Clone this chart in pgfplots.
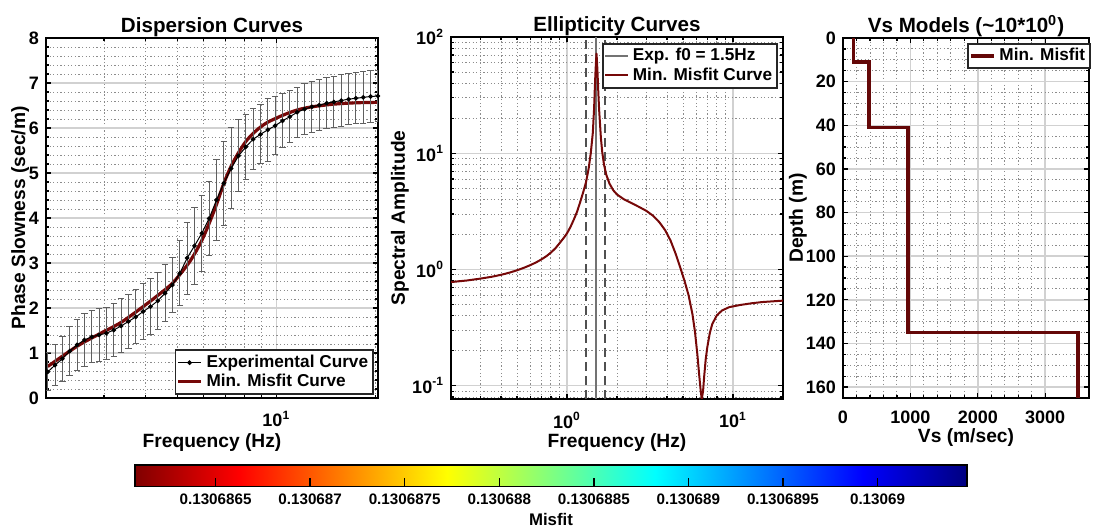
\documentclass[border=0pt]{standalone}
\usepackage{fontspec}
\setmainfont{Liberation Sans}
\usepackage{pgfplots}
\usepackage{pgfplotstable}
\pgfplotsset{compat=1.18}

\definecolor{mred}{RGB}{118,8,8}
\definecolor{ebar}{RGB}{95,95,95}
\definecolor{fzero}{RGB}{115,115,115}
\definecolor{fdash}{RGB}{80,80,80}

\pgfplotsset{
  colormap={revjet}{rgb255(0pt)=(128,0,0); rgb255(1pt)=(255,0,0); rgb255(3pt)=(255,255,0); rgb255(5pt)=(0,255,255); rgb255(7pt)=(0,0,255); rgb255(8pt)=(0,0,128)},
  matlab/.style={
    scale only axis,
    axis line style={line width=0.9pt},
    tick style={black, line width=0.6pt},
    major tick length=2.5pt, minor tick length=1.4pt,
    tick align=inside,
    grid=both,
    major grid style={line width=0.7pt, black!18},
    minor grid style={line width=0.45pt, black!45, dash pattern=on 0.6pt off 1.2pt},
    tick label style={font=\bfseries\fontsize{9}{10}\selectfont},
    xticklabel style={yshift=-3pt},
    label style={font=\bfseries\fontsize{9.6}{11}\selectfont},
    title style={font=\bfseries\fontsize{10.3}{12}\selectfont, at={(axis description cs:0.5,1)}, anchor=base, yshift=-3.2pt},
    legend style={font=\bfseries\fontsize{8.6}{10}\selectfont, draw=black!85, line width=0.9pt, fill=white, inner xsep=0.5pt, inner ysep=0.3pt, row sep=-2.2pt, cells={anchor=west, inner xsep=0.5pt}},
    legend image code/.code={\draw[mark repeat=2,mark phase=2,##1] plot coordinates {(0cm,0cm) (0.2cm,0cm) (0.4cm,0cm)};},
    /pgf/number format/assume math mode=true,
    /pgf/number format/1000 sep={},
    scaled ticks=false,
  }
}

\pgfplotstableread{
f s e
2.024 0.58 0.42
2.130 0.73 0.45
2.242 0.87 0.50
2.360 1.04 0.55
2.485 1.18 0.57
2.615 1.29 0.58
2.753 1.36 0.58
2.898 1.40 0.58
3.050 1.44 0.58
3.211 1.51 0.58
3.380 1.60 0.60
3.558 1.70 0.60
3.745 1.80 0.60
3.942 1.92 0.62
4.149 2.03 0.63
4.368 2.16 0.63
4.597 2.33 0.64
4.839 2.51 0.62
5.094 2.77 0.72
5.362 3.11 0.80
5.644 3.38 0.85
5.941 3.66 0.85
6.254 3.99 0.82
6.583 4.40 0.89
6.929 4.77 0.93
7.293 5.10 0.90
7.677 5.38 0.80
8.081 5.58 0.72
8.506 5.75 0.68
8.954 5.86 0.66
9.425 5.96 0.70
9.921 6.05 0.65
10.44 6.16 0.60
10.99 6.25 0.58
11.57 6.35 0.56
12.18 6.42 0.57
12.82 6.47 0.57
13.50 6.51 0.57
14.21 6.55 0.57
14.95 6.58 0.57
15.74 6.61 0.57
16.57 6.64 0.57
17.44 6.66 0.57
18.36 6.68 0.57
19.32 6.70 0.57
20.34 6.71 0.56
}\expdata

\pgfplotstableread{
f s
2.024 0.70
2.485 1.15
2.898 1.42
3.380 1.68
3.942 2.03
4.368 2.28
4.839 2.55
5.362 2.95
5.644 3.20
5.941 3.50
6.254 3.88
6.583 4.30
6.929 4.77
7.293 5.15
7.677 5.45
8.081 5.70
8.506 5.88
8.954 6.02
9.425 6.13
10.44 6.28
11.57 6.40
12.82 6.47
14.95 6.53
17.44 6.56
20.34 6.57
}\misfitdisp

\pgfplotstableread{
f a
0.20 0.78
0.25 0.805
0.30 0.835
0.35 0.865
0.40 0.90
0.45 0.94
0.50 0.985
0.55 1.035
0.60 1.09
0.65 1.15
0.70 1.22
0.75 1.30
0.80 1.40
0.85 1.52
0.90 1.68
0.95 1.85
1.00 2.05
1.05 2.33
1.10 2.70
1.15 3.15
1.20 3.80
1.25 4.60
1.30 5.60
1.35 7.40
1.39 10.0
1.43 15
1.455 24
1.470 36
1.482 48
1.493 60
1.505 72
1.517 60
1.528 48
1.540 36
1.560 24
1.60 13.5
1.63 10.2
1.67 8.0
1.72 6.6
1.80 5.5
1.90 4.8
2.00 4.42
2.20 4.02
2.40 3.78
2.70 3.47
3.00 3.20
3.30 2.90
3.60 2.55
3.90 2.18
4.20 1.78
4.50 1.38
4.80 1.05
5.10 0.80
5.40 0.60
5.70 0.41
5.90 0.29
6.10 0.185
6.25 0.125
6.38 0.092
6.48 0.077
6.60 0.090
6.70 0.120
6.85 0.170
7.00 0.215
7.25 0.285
7.50 0.340
8.00 0.405
8.60 0.445
9.50 0.475
11.0 0.495
13.0 0.513
15.0 0.525
17.5 0.533
20.0 0.540
}\ellip

\pgfplotstableread{
vs z
153 0
153 11
385 11
385 41
960 41
960 135
3486 135
3486 165
}\vsprof

\begin{document}
\begin{tikzpicture}
\useasboundingbox (0,0) rectangle (547pt,-264pt);

% ---------------- Dispersion ----------------
\begin{axis}[matlab,
  at={(23pt,-19pt)}, anchor=north west, width=166pt, height=180pt,
  xmode=log, xmin=2, xmax=20.35, ymin=0, ymax=8,
  xtick={10}, xticklabels={10\textsuperscript{1}},
  minor xtick={3,4,5,6,7,8,9,20},
  ytick={0,1,2,3,4,5,6,7,8}, minor y tick num=4,
  title={Dispersion Curves},
  xlabel={Frequency (Hz)}, ylabel={Phase Slowness (sec/m)},
  xlabel style={at={(axis description cs:0.5,-0.123)}, anchor=center},
  ylabel style={at={(axis description cs:-0.078,0.5)}, anchor=center},
  legend style={at={(1,0)}, anchor=south east, xshift=-2pt, yshift=1.5pt},
  reverse legend,
]
\addplot[mred, line width=1.6pt, smooth, no marks] table[x=f, y=s] {\misfitdisp};
\addlegendentry{Min. Misfit Curve}
\addplot[black, line width=0.5pt, mark=*, mark size=0.9pt,
  error bars/.cd, y dir=both, y explicit,
  error bar style={ebar, line width=0.5pt},
  error mark options={rotate=90, mark size=1.6pt, ebar, line width=0.5pt}]
  table[x=f, y=s, y error=e] {\expdata};
\addlegendentry{Experimental Curve}
\node[anchor=base west, font=\fontsize{9}{10}\selectfont, inner sep=0pt] at (rel axis cs:0.01,1) [yshift=2.6pt] {×10\textsuperscript{-3}};
\end{axis}

% ---------------- Ellipticity ----------------
\begin{axis}[matlab,
  at={(225.5pt,-18.5pt)}, anchor=north west, width=166pt, height=181pt,
  xmode=log, ymode=log, xmin=0.2, xmax=20, ymin=0.077, ymax=100,
  xtick={1,10}, xticklabels={10\textsuperscript{0},10\textsuperscript{1}},
  minor xtick={0.3,0.4,0.5,0.6,0.7,0.8,0.9,2,3,4,5,6,7,8,9},
  ytick={0.1,1,10,100}, yticklabels={10\textsuperscript{-1},10\textsuperscript{0},10\textsuperscript{1},10\textsuperscript{2}},
  minor ytick={0.08,0.09,0.2,0.3,0.4,0.5,0.6,0.7,0.8,0.9,2,3,4,5,6,7,8,9,20,30,40,50,60,70,80,90},
  title={Ellipticity Curves},
  xlabel={Frequency (Hz)}, ylabel={Spectral Amplitude},
  xlabel style={at={(axis description cs:0.5,-0.12)}, anchor=center},
  ylabel style={at={(axis description cs:-0.154,0.5)}, anchor=center},
  legend style={at={(1,1)}, anchor=north east, xshift=-2.5pt, yshift=-3pt},
]
\addplot[fzero, line width=1pt] coordinates {(1.5,0.077) (1.5,100)};
\addlegendentry{Exp. f0 = 1.5Hz}
\addplot[fdash, line width=1pt, dash pattern=on 4.5pt off 2.5pt, forget plot] coordinates {(1.3,0.077) (1.3,100)};
\addplot[fdash, line width=1pt, dash pattern=on 4.5pt off 2.5pt, forget plot] coordinates {(1.7,0.077) (1.7,100)};
\addplot[mred, line width=1pt, no marks, line join=round] table[x=f, y=a] {\ellip};
\addlegendentry{Min. Misfit Curve}
\end{axis}

% ---------------- Vs model ----------------
\begin{axis}[matlab,
  at={(421.5pt,-19pt)}, anchor=north west, width=123pt, height=180pt,
  xmin=0, xmax=3650, ymin=0, ymax=165, y dir=reverse,
  xtick={0,1000,2000,3000}, minor x tick num=4,
  ytick={0,20,40,60,80,100,120,140,160}, minor y tick num=3,
  title={Vs Models (\textasciitilde10*10\textsuperscript{0})},
  xlabel={Vs (m/sec)}, ylabel={Depth (m)},
  xlabel style={at={(axis description cs:0.5,-0.11)}, anchor=center},
  ylabel style={at={(axis description cs:-0.183,0.5)}, anchor=center},
  legend style={at={(1,1)}, anchor=north east, xshift=1pt, yshift=-2.4pt},
]
\addplot[mred!85!black, line width=1.8pt, no marks] table[x=vs, y=z] {\vsprof};
\addlegendentry{Min. Misfit}
\end{axis}

% ---------------- Colorbar ----------------
\begin{axis}[
  at={(67.5pt,-232.5pt)}, anchor=north west, scale only axis, width=416pt, height=10.85pt,
  xmin=0.74, xmax=44.73, ymin=0, ymax=1,
  colormap name=revjet, point meta min=0.74, point meta max=44.73,
  axis line style={line width=0.8pt}, axis on top,
  tick align=inside, xtick pos=left, ytick=\empty,
  major tick length=4.5pt, tick style={black, line width=0.7pt},
  xtick={5,10,15,20,25,30,35,40},
  xticklabels={0.1306865,0.130687,0.1306875,0.130688,0.1306885,0.130689,0.1306895,0.13069},
  xticklabel style={font=\bfseries\fontsize{7.6}{9}\selectfont},
  xlabel={Misfit}, xlabel style={font=\bfseries\fontsize{8.4}{10}\selectfont, at={(axis description cs:0.5,-1.49)}, anchor=center},
]
\addplot[surf, shader=interp, point meta=x, mesh/rows=2, mesh/cols=2] coordinates {(0.74,0) (44.73,0)

(0.74,1) (44.73,1)};
\end{axis}
\end{tikzpicture}
\end{document}
